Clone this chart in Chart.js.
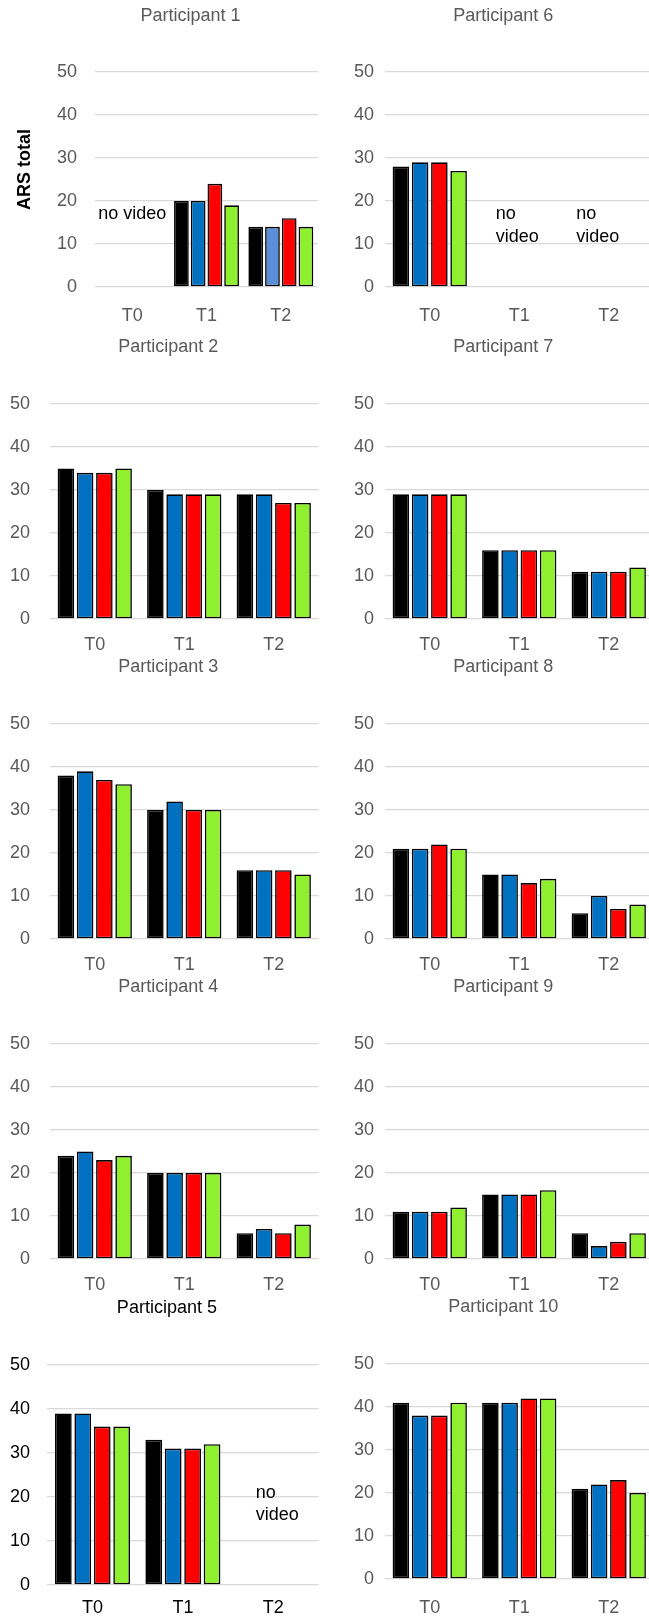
<!DOCTYPE html>
<html><head><meta charset="utf-8">
<script src="https://cdn.jsdelivr.net/npm/chart.js@4.4.1/dist/chart.umd.min.js"></script>
<style>
html,body{margin:0;padding:0;background:#fff;overflow:hidden;}
#wrap{position:relative;width:649px;height:1619px;overflow:hidden;background:#fff;}
#wrap canvas{position:absolute;}
</style></head><body><div id="wrap"></div>
<script>
// ---------- data ----------
const categories = ['T0', 'T1', 'T2'];
const seriesNames = ['Series 1', 'Series 2', 'Series 3', 'Series 4'];
const yTickValues = [0, 10, 20, 30, 40, 50];
const titles = ['Participant 1','Participant 2','Participant 3','Participant 4','Participant 5',
                'Participant 6','Participant 7','Participant 8','Participant 9','Participant 10'];
// each participant: [black, blue, red, green] series across T0, T1, T2 (null = no video)
const participant1  = [[null, 20, 14], [null, 20, 14], [null, 24, 16], [null, 19, 14]];
const participant2  = [[35, 30, 29], [34, 29, 29], [34, 29, 27], [35, 29, 27]];
const participant3  = [[38, 30, 16], [39, 32, 16], [37, 30, 16], [36, 30, 15]];
const participant4  = [[24, 20, 6], [25, 20, 7], [23, 20, 6], [24, 20, 8]];
const participant5  = [[39, 33, null], [39, 31, null], [36, 31, null], [36, 32, null]];
const participant6  = [[28, null, null], [29, null, null], [29, null, null], [27, null, null]];
const participant7  = [[29, 16, 11], [29, 16, 11], [29, 16, 11], [29, 16, 12]];
const participant8  = [[21, 15, 6], [21, 15, 10], [22, 13, 7], [21, 14, 8]];
const participant9  = [[11, 15, 6], [11, 15, 3], [11, 15, 4], [12, 16, 6]];
const participant10 = [[41, 41, 21], [38, 41, 22], [38, 42, 23], [41, 42, 20]];
const participants = [participant1, participant2, participant3, participant4, participant5,
                      participant6, participant7, participant8, participant9, participant10];

// ---------- styles / layout ----------
const FAMILY = '"Liberation Sans", Arial, Helvetica, sans-serif';
Chart.defaults.font.family = FAMILY;
const barColors = ['#000000', '#0070C0', '#FF0000', '#8EF02E'];
const GRAY = '#595959';

const layouts = [
  {col:0, plotLeft:95,   plotRight:318,   titleY:16.5, top:72,   bottom:287,  labelY:316,  yPad:18,   cat:0.90, bar:0.88, axisTitle:true,
   note:{lines:['no video'], y:17, spacing:0, dx:[0,0,0]}, blueT2:'#5B8FD6'},
  {col:0, plotLeft:50,   plotRight:318.5, titleY:347,  top:404,  bottom:619,  labelY:645,  yPad:20},
  {col:0, plotLeft:50,   plotRight:318.5, titleY:667,  top:724,  bottom:939,  labelY:965,  yPad:20},
  {col:0, plotLeft:50,   plotRight:318.5, titleY:987,  top:1044, bottom:1259, labelY:1285, yPad:20},
  {col:0, plotLeft:47.3, plotRight:318.5, titleY:1308, top:1365, bottom:1585, labelY:1608, yPad:17.3, color:'#000000',
   note:{lines:['no', 'video'], y:21, spacing:22, dx:[0,0,4]}},
  {col:1, plotLeft:385,  plotRight:653.5, titleY:16.5, top:72,   bottom:287,  labelY:316,  yPad:11,
   note:{lines:['no', 'video'], y:17, spacing:23, dx:[0,-2,-11]}},
  {col:1, plotLeft:385,  plotRight:653.5, titleY:347,  top:404,  bottom:619,  labelY:645,  yPad:11},
  {col:1, plotLeft:385,  plotRight:653.5, titleY:667,  top:724,  bottom:939,  labelY:965,  yPad:11},
  {col:1, plotLeft:385,  plotRight:653.5, titleY:987,  top:1044, bottom:1259, labelY:1285, yPad:11},
  {col:1, plotLeft:385,  plotRight:653.5, titleY:1307, top:1364, bottom:1579, labelY:1608, yPad:11},
];

function noVideoPlugin(note) {
  return {
    id: 'noVideo',
    afterDatasetsDraw(chart) {
      if (!note) return;
      const {ctx} = chart;
      const xs = chart.scales.x, ys = chart.scales.y;
      const ds = chart.data.datasets;
      ctx.save();
      ctx.font = '18px ' + FAMILY;
      ctx.fillStyle = '#000000';
      ctx.textBaseline = 'middle';
      ctx.textAlign = 'left';
      const maxW = Math.max(...note.lines.map(l => ctx.measureText(l).width));
      chart.data.labels.forEach((lab, i) => {
        if (!ds.every(d => d.data[i] === null || d.data[i] === undefined)) return;
        const x0 = xs.getPixelForValue(i) + (note.dx[i] || 0) - maxW / 2;
        const y0 = ys.getPixelForValue(note.y);
        note.lines.forEach((l, k) => ctx.fillText(l, x0, y0 + k * note.spacing));
      });
      ctx.restore();
    }
  };
}

const wrap = document.getElementById('wrap');
const X_AXIS_H = 40;

layouts.forEach((p, idx) => {
  const CL = p.col ? 325 : 0;
  const yAxisW = p.plotLeft - CL;          // left axis holds the tick labels
  const spacerW = yAxisW - 32;             // empty right axis: centres the title like the original
  const tTop = p.titleY - 10.8;
  const CT = Math.floor(tTop);
  const W = Math.ceil(p.plotRight + spacerW - CL + 1);
  const H = Math.ceil(p.bottom + X_AXIS_H - CT);
  const pad = {
    left: 0,
    right: CL + W - p.plotRight - spacerW,
    top: tTop - CT,
    bottom: CT + H - p.bottom - X_AXIS_H
  };
  const cv = document.createElement('canvas');
  cv.width = W; cv.height = H;
  cv.style.left = CL + 'px'; cv.style.top = CT + 'px';
  cv.style.width = W + 'px'; cv.style.height = H + 'px';
  wrap.appendChild(cv);

  const textColor = p.color || GRAY;
  const values = participants[idx];
  const datasets = seriesNames.map((name, k) => {
    let bg = barColors[k];
    if (k === 1 && p.blueT2) bg = [barColors[1], barColors[1], p.blueT2];
    return {
      label: name,
      data: values[k],
      yAxisID: 'y',
      backgroundColor: bg,
      borderColor: '#000000',
      borderWidth: 1.6,
      borderSkipped: false,
      categoryPercentage: p.cat || 0.86,
      barPercentage: p.bar || 0.86
    };
  });

  new Chart(cv, {
    type: 'bar',
    data: {labels: categories, datasets},
    options: {
      responsive: false,
      animation: false,
      events: [],
      layout: {padding: pad},
      plugins: {
        legend: {display: false},
        tooltip: {enabled: false},
        title: {
          display: true,
          text: titles[idx],
          color: textColor,
          font: {size: 18, weight: 'normal', family: FAMILY, lineHeight: 1.2},
          padding: {top: 0, bottom: p.top - p.titleY - 10.8}
        }
      },
      scales: {
        x: {
          grid: {display: false, drawTicks: false},
          border: {display: false},
          ticks: {color: textColor, font: {size: 18, family: FAMILY}, padding: p.labelY - p.bottom - 10.8, maxRotation: 0},
          afterFit(s) { s.height = X_AXIS_H; }
        },
        y: {
          position: 'left',
          min: 0, max: 50,
          grid: {color: '#D9D9D9', lineWidth: 1.3, drawTicks: false},
          border: {display: false},
          ticks: {color: textColor, font: {size: 18, family: FAMILY}, padding: p.yPad},
          afterBuildTicks(s) { s.ticks = yTickValues.map(v => ({value: v})); },
          afterFit(s) { s.width = yAxisW; },
          title: p.axisTitle ? {
            display: true, text: '    ARS total', color: '#000000',
            font: {size: 18, weight: 'bold', family: FAMILY},
            padding: {top: 25 - 10.8, bottom: 0}
          } : {display: false}
        },
        spacer: {
          type: 'linear',
          position: 'right',
          grid: {display: false, drawTicks: false},
          border: {display: false},
          ticks: {display: false},
          afterFit(s) { s.width = spacerW; }
        }
      }
    },
    plugins: [noVideoPlugin(p.note)]
  });
});
</script>
</body></html>
